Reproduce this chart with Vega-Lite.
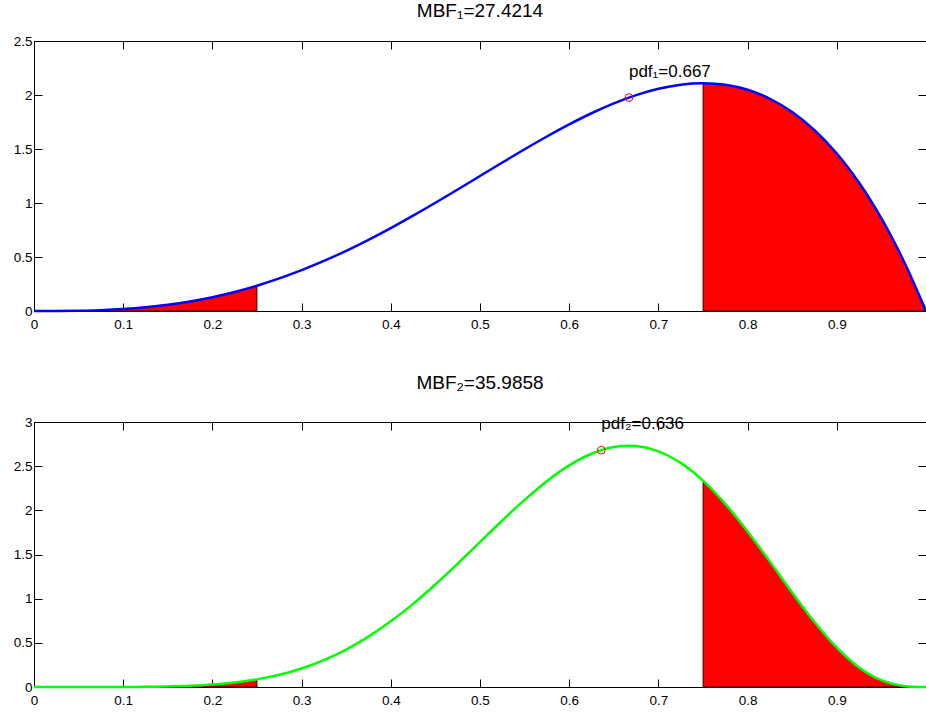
{
  "$schema": "https://vega.github.io/schema/vega-lite/v6.json",
  "padding": {"left": 12, "top": 1, "right": 0, "bottom": 0},
  "background": "white",
  "spacing": 42,
  "config": {
    "font": "Liberation Sans",
    "view": {"stroke": "black", "strokeWidth": 1},
    "axis": {
      "grid": false,
      "labelFont": "Liberation Sans",
      "labelFontSize": 13.5,
      "labelColor": "black",
      "domainColor": "black",
      "domainWidth": 1,
      "tickColor": "black",
      "tickWidth": 1,
      "tickSize": -8,
      "format": "~g",
      "title": null
    },
    "title": {"font": "Liberation Sans", "fontSize": 19, "fontWeight": "normal", "color": "black", "anchor": "middle"}
  },
  "datasets": {
    "c1": [
      {"x": 0, "pdf": 0}, {"x": 0.025, "pdf": 0.000305}, {"x": 0.05, "pdf": 0.002375}, {"x": 0.075, "pdf": 0.007805},
      {"x": 0.1, "pdf": 0.018}, {"x": 0.125, "pdf": 0.03418}, {"x": 0.15, "pdf": 0.057375}, {"x": 0.175, "pdf": 0.08843},
      {"x": 0.2, "pdf": 0.128}, {"x": 0.225, "pdf": 0.17656}, {"x": 0.25, "pdf": 0.234375}, {"x": 0.275, "pdf": 0.30156},
      {"x": 0.3, "pdf": 0.378}, {"x": 0.325, "pdf": 0.46343}, {"x": 0.35, "pdf": 0.557375}, {"x": 0.375, "pdf": 0.65918},
      {"x": 0.4, "pdf": 0.768}, {"x": 0.425, "pdf": 0.88281}, {"x": 0.45, "pdf": 1.002375}, {"x": 0.475, "pdf": 1.1253},
      {"x": 0.5, "pdf": 1.25}, {"x": 0.525, "pdf": 1.37468}, {"x": 0.55, "pdf": 1.497375}, {"x": 0.575, "pdf": 1.61593},
      {"x": 0.6, "pdf": 1.728}, {"x": 0.625, "pdf": 1.83105}, {"x": 0.65, "pdf": 1.922375}, {"x": 0.675, "pdf": 1.99905},
      {"x": 0.7, "pdf": 2.058}, {"x": 0.725, "pdf": 2.09593}, {"x": 0.75, "pdf": 2.109375}, {"x": 0.775, "pdf": 2.09468},
      {"x": 0.8, "pdf": 2.048}, {"x": 0.825, "pdf": 1.9653}, {"x": 0.85, "pdf": 1.842375}, {"x": 0.875, "pdf": 1.6748},
      {"x": 0.9, "pdf": 1.458}, {"x": 0.925, "pdf": 1.18718}, {"x": 0.95, "pdf": 0.857375}, {"x": 0.975, "pdf": 0.46343},
      {"x": 1, "pdf": 0}
    ],
    "c2": [
      {"x": 0, "pdf": 0}, {"x": 0.025, "pdf": 0.0000002}, {"x": 0.05, "pdf": 0.0000113}, {"x": 0.075, "pdf": 0.0001183},
      {"x": 0.1, "pdf": 0.000612}, {"x": 0.125, "pdf": 0.002147}, {"x": 0.15, "pdf": 0.005876}, {"x": 0.175, "pdf": 0.013548},
      {"x": 0.2, "pdf": 0.027525}, {"x": 0.225, "pdf": 0.050731}, {"x": 0.25, "pdf": 0.086517}, {"x": 0.275, "pdf": 0.138446},
      {"x": 0.3, "pdf": 0.210036}, {"x": 0.325, "pdf": 0.30443}, {"x": 0.35, "pdf": 0.42407}, {"x": 0.375, "pdf": 0.5703},
      {"x": 0.4, "pdf": 0.743178}, {"x": 0.425, "pdf": 0.94107}, {"x": 0.45, "pdf": 1.16048}, {"x": 0.475, "pdf": 1.39611},
      {"x": 0.5, "pdf": 1.640625}, {"x": 0.525, "pdf": 1.88502}, {"x": 0.55, "pdf": 2.11881}, {"x": 0.575, "pdf": 2.33054},
      {"x": 0.6, "pdf": 2.508227}, {"x": 0.625, "pdf": 2.64024}, {"x": 0.65, "pdf": 2.7162}, {"x": 0.675, "pdf": 2.72744},
      {"x": 0.7, "pdf": 2.668279}, {"x": 0.725, "pdf": 2.53692}, {"x": 0.75, "pdf": 2.335968}, {"x": 0.775, "pdf": 2.07317},
      {"x": 0.8, "pdf": 1.761608}, {"x": 0.825, "pdf": 1.41945}, {"x": 0.85, "pdf": 1.06922}, {"x": 0.875, "pdf": 0.7363},
      {"x": 0.9, "pdf": 0.44641}, {"x": 0.925, "pdf": 0.221979}, {"x": 0.95, "pdf": 0.077185}, {"x": 0.975, "pdf": 0.011275},
      {"x": 1, "pdf": 0}
    ],
    "m1": [{"x": 0.667, "pdf": 1.9763, "label": "pdf₁=0.667"}],
    "m2": [{"x": 0.636, "pdf": 2.6812, "label": "pdf₂=0.636"}]
  },
  "vconcat": [
    {
      "width": 892,
      "height": 270,
      "title": {"text": "MBF₁=27.4214", "offset": 13},
      "resolve": {"axis": {"x": "independent", "y": "independent"}},
      "layer": [
        {
          "data": {"name": "c1"},
          "transform": [{"filter": "datum.x <= 0.25"}],
          "mark": {"type": "area", "color": "red", "stroke": "black", "strokeWidth": 0.8, "interpolate": "catmull-rom"},
          "encoding": {
            "x": {"field": "x", "type": "quantitative", "scale": {"domain": [0, 1], "nice": false},
                  "axis": {"orient": "bottom", "values": [0, 0.1, 0.2, 0.3, 0.4, 0.5, 0.6, 0.7, 0.8, 0.9], "labelPadding": 14, "labelFlush": false}},
            "y": {"field": "pdf", "type": "quantitative", "scale": {"domain": [0, 2.5], "nice": false},
                  "axis": {"orient": "left", "values": [0, 0.5, 1, 1.5, 2, 2.5], "labelPadding": 10}}
          }
        },
        {
          "data": {"name": "c1"},
          "transform": [{"filter": "datum.x >= 0.75"}],
          "mark": {"type": "area", "color": "red", "stroke": "black", "strokeWidth": 0.8, "interpolate": "catmull-rom"},
          "encoding": {
            "x": {"field": "x", "type": "quantitative", "axis": null},
            "y": {"field": "pdf", "type": "quantitative", "axis": null}
          }
        },
        {
          "data": {"name": "c1"},
          "mark": {"type": "line", "color": "#0000ff", "strokeWidth": 2.5, "interpolate": "catmull-rom"},
          "encoding": {
            "x": {"field": "x", "type": "quantitative", "axis": null},
            "y": {"field": "pdf", "type": "quantitative", "axis": null}
          }
        },
        {
          "data": {"name": "m1"},
          "mark": {"type": "point", "shape": "circle", "filled": false, "stroke": "red", "strokeWidth": 1, "size": 60, "opacity": 1},
          "encoding": {
            "x": {"field": "x", "type": "quantitative", "axis": null},
            "y": {"field": "pdf", "type": "quantitative", "axis": null}
          }
        },
        {
          "data": {"name": "m1"},
          "mark": {"type": "text", "align": "left", "baseline": "alphabetic", "dy": -21, "fontSize": 17, "color": "black"},
          "encoding": {
            "x": {"field": "x", "type": "quantitative",
                  "axis": {"orient": "top", "labels": false, "values": [0, 0.1, 0.2, 0.3, 0.4, 0.5, 0.6, 0.7, 0.8, 0.9]}},
            "y": {"field": "pdf", "type": "quantitative",
                  "axis": {"orient": "right", "labels": false, "values": [0, 0.5, 1, 1.5, 2, 2.5]}},
            "text": {"field": "label"}
          }
        }
      ]
    },
    {
      "width": 892,
      "height": 265,
      "title": {"text": "MBF₂=35.9858", "offset": 22},
      "resolve": {"axis": {"x": "independent", "y": "independent"}},
      "layer": [
        {
          "data": {"name": "c2"},
          "transform": [{"filter": "datum.x <= 0.25"}],
          "mark": {"type": "area", "color": "red", "stroke": "black", "strokeWidth": 0.8, "interpolate": "catmull-rom"},
          "encoding": {
            "x": {"field": "x", "type": "quantitative", "scale": {"domain": [0, 1], "nice": false},
                  "axis": {"orient": "bottom", "values": [0, 0.1, 0.2, 0.3, 0.4, 0.5, 0.6, 0.7, 0.8, 0.9], "labelPadding": 14, "labelFlush": false}},
            "y": {"field": "pdf", "type": "quantitative", "scale": {"domain": [0, 3], "nice": false},
                  "axis": {"orient": "left", "values": [0, 0.5, 1, 1.5, 2, 2.5, 3], "labelPadding": 10}}
          }
        },
        {
          "data": {"name": "c2"},
          "transform": [{"filter": "datum.x >= 0.75"}],
          "mark": {"type": "area", "color": "red", "stroke": "black", "strokeWidth": 0.8, "interpolate": "catmull-rom"},
          "encoding": {
            "x": {"field": "x", "type": "quantitative", "axis": null},
            "y": {"field": "pdf", "type": "quantitative", "axis": null}
          }
        },
        {
          "data": {"name": "c2"},
          "mark": {"type": "line", "color": "#00ff00", "strokeWidth": 2.5, "interpolate": "catmull-rom"},
          "encoding": {
            "x": {"field": "x", "type": "quantitative", "axis": null},
            "y": {"field": "pdf", "type": "quantitative", "axis": null}
          }
        },
        {
          "data": {"name": "m2"},
          "mark": {"type": "point", "shape": "circle", "filled": false, "stroke": "red", "strokeWidth": 1, "size": 60, "opacity": 1},
          "encoding": {
            "x": {"field": "x", "type": "quantitative", "axis": null},
            "y": {"field": "pdf", "type": "quantitative", "axis": null}
          }
        },
        {
          "data": {"name": "m2"},
          "mark": {"type": "text", "align": "left", "baseline": "alphabetic", "dy": -21, "fontSize": 17, "color": "black"},
          "encoding": {
            "x": {"field": "x", "type": "quantitative",
                  "axis": {"orient": "top", "labels": false, "values": [0, 0.1, 0.2, 0.3, 0.4, 0.5, 0.6, 0.7, 0.8, 0.9]}},
            "y": {"field": "pdf", "type": "quantitative",
                  "axis": {"orient": "right", "labels": false, "values": [0, 0.5, 1, 1.5, 2, 2.5, 3]}},
            "text": {"field": "label"}
          }
        }
      ]
    }
  ]
}
